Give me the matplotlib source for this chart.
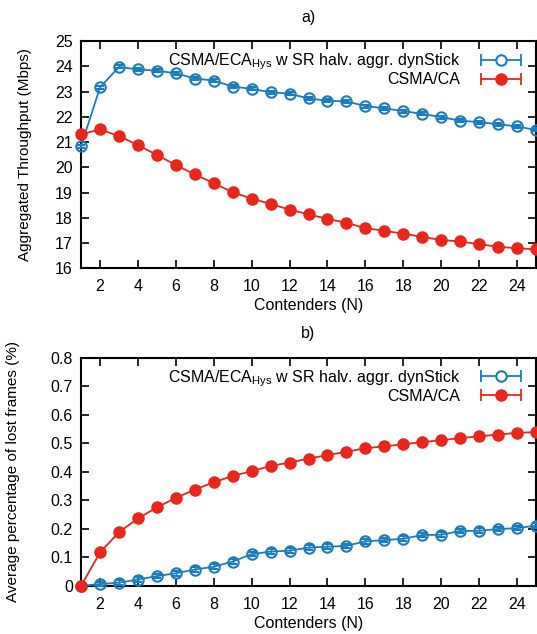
import matplotlib.pyplot as plt
from matplotlib.lines import Line2D
from matplotlib.legend_handler import HandlerLine2D, HandlerTuple

plt.rcParams['font.family'] = ['Liberation Sans', 'DejaVu Sans']
plt.rcParams['mathtext.fontset'] = 'custom'
plt.rcParams['mathtext.rm'] = 'Liberation Sans'
plt.rcParams['font.size'] = 11.5

contenders = list(range(1, 26))

thr_eca = [20.84, 23.17, 23.98, 23.88, 23.83, 23.73, 23.52, 23.44, 23.20, 23.11,
           22.98, 22.92, 22.73, 22.64, 22.61, 22.43, 22.34, 22.23, 22.12, 21.99,
           21.85, 21.79, 21.71, 21.62, 21.48]
thr_ca = [21.31, 21.50, 21.24, 20.88, 20.49, 20.09, 19.72, 19.37, 19.01, 18.76,
          18.55, 18.32, 18.14, 17.95, 17.80, 17.59, 17.48, 17.37, 17.24, 17.12,
          17.06, 16.95, 16.85, 16.79, 16.75]
thr_eca_err = [0.06] * 25
thr_ca_err = [0.03] * 25

lost_eca = [0.0, 0.006, 0.011, 0.022, 0.034, 0.044, 0.057, 0.067, 0.085, 0.111,
            0.120, 0.123, 0.134, 0.137, 0.140, 0.156, 0.160, 0.165, 0.178, 0.179,
            0.192, 0.193, 0.199, 0.202, 0.211]
lost_ca = [0.0, 0.117, 0.188, 0.236, 0.275, 0.308, 0.337, 0.363, 0.385, 0.402,
           0.420, 0.432, 0.446, 0.458, 0.470, 0.482, 0.489, 0.496, 0.504, 0.510,
           0.518, 0.524, 0.530, 0.536, 0.539]
lost_eca_err = [0.008] * 25
lost_ca_err = [0.004] * 25

blue = '#1a7dbb'
red = '#e8261c'
label_eca = 'CSMA/ECA$_{\\mathrm{Hys}}$ w SR halv. aggr. dynStick'
label_ca = 'CSMA/CA'

fig = plt.figure(figsize=(5.37, 6.34), dpi=100)
ax1 = fig.add_axes([0.151, 0.577, 0.847, 0.358])
ax2 = fig.add_axes([0.151, 0.076, 0.847, 0.360])


def legend_handles(color, filled):
    caps = Line2D([], [], color=color, lw=1.3, marker='|', ms=9, mew=1.3)
    dot = Line2D([], [], color=color, lw=0, marker='o', ms=7.5, mew=1.5,
                 mfc=color if filled else 'white')
    return (caps, dot), {caps: HandlerLine2D(numpoints=2),
                         dot: HandlerLine2D(numpoints=1)}


def draw(ax, y_eca, e_eca, y_ca, e_ca):
    ax.errorbar(contenders, y_eca, yerr=e_eca, color=blue, marker='o', ms=7.5,
                mfc='none', mew=1.5, lw=1.3, capsize=3, elinewidth=1,
                clip_on=False, zorder=3)
    ax.errorbar(contenders, y_ca, yerr=e_ca, color=red, marker='o', ms=7.5,
                mew=1.5, lw=1.3, capsize=3, elinewidth=1,
                clip_on=False, zorder=3)
    ax.set_xlim(1, 25)
    ax.set_xticks(range(2, 25, 2))
    ax.tick_params(direction='in', top=True, right=True, length=6, width=1.2,
                   pad=6)
    ax.tick_params(axis='x', pad=8)
    for s in ax.spines.values():
        s.set_linewidth(1.5)
    ax.set_xlabel('Contenders (N)', labelpad=3)
    h1, m1 = legend_handles(blue, False)
    h2, m2 = legend_handles(red, True)
    hmap = {tuple: HandlerTuple(ndivide=1, pad=0)}
    hmap.update(m1)
    hmap.update(m2)
    leg = ax.legend([h1, h2], [label_eca, label_ca], handler_map=hmap,
                    loc='upper right', frameon=False, markerfirst=False,
                    handlelength=3.1, borderaxespad=0.65, labelspacing=0.0,
                    handletextpad=1.0, borderpad=0.0)
    for t in leg.get_texts():
        t.set_ha('right')


draw(ax1, thr_eca, thr_eca_err, thr_ca, thr_ca_err)
ax1.set_ylim(16, 25)
ax1.set_yticks(range(16, 26))
ax1.set_ylabel('Aggregated Throughput (Mbps)', fontsize=11)
ax1.yaxis.set_label_coords(-0.108, 0.5)

draw(ax2, lost_eca, lost_eca_err, lost_ca, lost_ca_err)
ax2.set_ylim(0, 0.8)
ax2.set_yticks([0, 0.1, 0.2, 0.3, 0.4, 0.5, 0.6, 0.7, 0.8])
ax2.set_yticklabels(['0', '0.1', '0.2', '0.3', '0.4', '0.5', '0.6', '0.7', '0.8'])
ax2.set_ylabel('Average percentage of lost frames (%)', fontsize=11)
ax2.yaxis.set_label_coords(-0.134, 0.5)

fig.text(0.574, 0.973, 'a)', ha='center', va='center')
fig.text(0.574, 0.474, 'b)', ha='center', va='center')

fig.savefig('out.png', dpi=100)
